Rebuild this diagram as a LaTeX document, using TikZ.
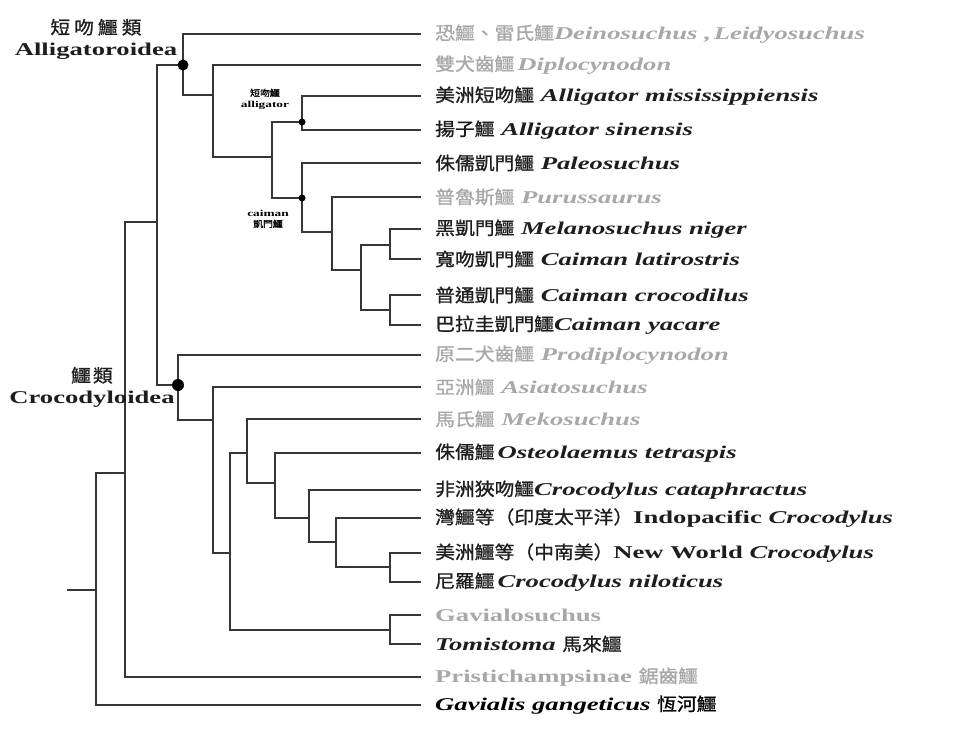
\documentclass[tikz,border=0pt]{standalone}
\usepackage{fontspec}
\setmainfont{Liberation Serif}[FakeStretch=1.48]
\newfontfamily\cjk{Noto Sans CJK TC}[FakeStretch=1.1, FakeBold=1]
\newcommand\zhtxt[1]{{\cjk\mdseries\upshape #1}}
\definecolor{linec}{HTML}{3A3535}
\definecolor{txtdark}{HTML}{1E1E1E}
\definecolor{txtgray}{HTML}{A8A8A8}
\begin{document}
\begin{tikzpicture}[x=1pt,y=-1pt,
  branch/.style={draw=linec, line width=2.9pt, line join=miter},
  tipl/.style={anchor=west, inner sep=0pt, font=\fontsize{18}{18}\selectfont\bfseries},
  dark/.style={text=txtdark},
  pale/.style={text=txtgray},
  bigdot/.style={circle, fill=black, inner sep=0pt, minimum size=11pt},
  smalldot/.style={circle, fill=black, inner sep=0pt, minimum size=7pt},
  clade/.style={align=center, inner sep=0pt, text=txtdark, font=\fontsize{18}{20}\selectfont\bfseries},
  tiny/.style={align=center, inner sep=0pt, text=black, font=\fontsize{9}{11}\selectfont\bfseries}]
\useasboundingbox (0,0) rectangle (953,731);
% internal nodes
\coordinate (S) at (67,590);
\coordinate (R) at (96,590);
\coordinate (A) at (125,473);
\coordinate (B) at (157,222);
\coordinate (AL) at (183,65);
\coordinate (C) at (213,95);
\coordinate (D) at (272,157);
\coordinate (ALG) at (302,122);
\coordinate (CAI) at (302,198);
\coordinate (E) at (332,232);
\coordinate (F) at (361,270);
\coordinate (G) at (390,245);
\coordinate (H) at (390,310);
\coordinate (CR) at (178,385);
\coordinate (I) at (213,420);
\coordinate (J) at (230,553);
\coordinate (K) at (247,453);
\coordinate (M) at (275,483);
\coordinate (N) at (309,518);
\coordinate (O) at (336,542);
\coordinate (P) at (390,567);
\coordinate (L) at (390,630);
% tips
\foreach \i/\y in {1/34,2/65,3/96,4/130,5/163,6/197,7/229,8/259,9/295,10/325,11/355,12/387,13/419,14/453,15/490,16/518,17/553,18/582,19/615,20/644,21/677,22/705}
  \coordinate (t\i) at (421,\y);
% branches
\draw[branch, line width=1.8pt] (S) -- (R);
\draw[branch] (R) |- (A);
\draw[branch] (R) |- (t22);
\draw[branch] (A) |- (B);
\draw[branch] (A) |- (t21);
\draw[branch] (B) |- (AL);
\draw[branch] (B) |- (CR);
\draw[branch] (AL) |- (t1);
\draw[branch] (AL) |- (C);
\draw[branch] (C) |- (t2);
\draw[branch] (C) |- (D);
\draw[branch] (D) |- (ALG);
\draw[branch] (D) |- (CAI);
\draw[branch] (ALG) |- (t3);
\draw[branch] (ALG) |- (t4);
\draw[branch] (CAI) |- (t5);
\draw[branch] (CAI) |- (E);
\draw[branch] (E) |- (t6);
\draw[branch] (E) |- (F);
\draw[branch] (F) |- (G);
\draw[branch] (F) |- (H);
\draw[branch] (G) |- (t7);
\draw[branch] (G) |- (t8);
\draw[branch] (H) |- (t9);
\draw[branch] (H) |- (t10);
\draw[branch] (CR) |- (t11);
\draw[branch] (CR) |- (I);
\draw[branch] (I) |- (t12);
\draw[branch] (I) |- (J);
\draw[branch] (J) |- (K);
\draw[branch] (J) |- (L);
\draw[branch] (K) |- (t13);
\draw[branch] (K) |- (M);
\draw[branch] (M) |- (t14);
\draw[branch] (M) |- (N);
\draw[branch] (N) |- (t15);
\draw[branch] (N) |- (O);
\draw[branch] (O) |- (t16);
\draw[branch] (O) |- (P);
\draw[branch] (P) |- (t17);
\draw[branch] (P) |- (t18);
\draw[branch] (L) |- (t19);
\draw[branch] (L) |- (t20);
% dots
\node[bigdot] (dAL) at (AL) {};
\node[bigdot, minimum size=12pt] (dCR) at (CR) {};
\node[smalldot] (dALG) at (ALG) {};
\node[smalldot] (dCAI) at (CAI) {};
% tip labels
\node[tipl,pale] (l1) at (435,34) {\zhtxt{恐鱷、雷氏鱷}\textit{Deinosuchus ,\hspace{3pt}Leidyosuchus}};
\node[tipl,pale] (l2) at (435,65) {\zhtxt{雙犬齒鱷}\,\textit{Diplocynodon}};
\node[tipl,dark] (l3) at (435,96) {\zhtxt{美洲短吻鱷} \textit{Alligator mississippiensis}};
\node[tipl,dark] (l4) at (435,130) {\zhtxt{揚子鱷} \textit{Alligator sinensis}};
\node[tipl,dark] (l5) at (435,163) {\zhtxt{侏儒凱門鱷} \textit{Paleosuchus}};
\node[tipl,pale] (l6) at (435,197) {\zhtxt{普魯斯鱷} \textit{Purussaurus}};
\node[tipl,dark] (l7) at (435,229) {\zhtxt{黑凱門鱷} \textit{Melanosuchus niger}};
\node[tipl,dark] (l8) at (435,259) {\zhtxt{寬吻凱門鱷} \textit{Caiman latirostris}};
\node[tipl,dark] (l9) at (435,295) {\zhtxt{普通凱門鱷} \textit{Caiman crocodilus}};
\node[tipl,dark] (l10) at (435,325) {\zhtxt{巴拉圭凱門鱷}\textit{Caiman yacare}};
\node[tipl,pale] (l11) at (435,355) {\zhtxt{原二犬齒鱷} \textit{Prodiplocynodon}};
\node[tipl,pale] (l12) at (435,387) {\zhtxt{亞洲鱷} \textit{Asiatosuchus}};
\node[tipl,pale] (l13) at (435,419) {\zhtxt{馬氏鱷} \textit{Mekosuchus}};
\node[tipl,dark] (l14) at (435,453) {\zhtxt{侏儒鱷}\,\textit{Osteolaemus tetraspis}};
\node[tipl,dark] (l15) at (435,490) {\zhtxt{非洲狹吻鱷}\textit{Crocodylus cataphractus}};
\node[tipl,dark] (l16) at (435,518) {\zhtxt{灣鱷等（印度太平洋）}Indopacific \textit{Crocodylus}};
\node[tipl,dark] (l17) at (435,553) {\zhtxt{美洲鱷等（中南美）}New World \textit{Crocodylus}};
\node[tipl,dark] (l18) at (435,582) {\zhtxt{尼羅鱷}\,\textit{Crocodylus niloticus}};
\node[tipl,pale] (l19) at (435,615) {Gavialosuchus};
\node[tipl,dark] (l20) at (435,644) {\textit{Tomistoma} \zhtxt{馬來鱷}};
\node[tipl,pale] (l21) at (435,677) {Pristichampsinae \zhtxt{鋸齒鱷}};
\node[tipl,text=black] (l22) at (435,705) {\textit{Gavialis gangeticus} \zhtxt{恆河鱷}};
% clade labels
\node[clade] (cA) at (96,39) {\zhtxt{短\hspace{4pt}吻\hspace{4pt}鱷\hspace{4pt}類}\\[1pt]Alligatoroidea};
\node[clade] (cC) at (92,387) {\zhtxt{鱷\hspace{2pt}類}\\[1pt]Crocodyloidea};
\node[tiny] (sA) at (265,99) {\zhtxt{短吻鱷}\\alligator};
\node[tiny] (sC) at (268,219) {caiman\\\zhtxt{凱門鱷}};
\end{tikzpicture}
\end{document}
